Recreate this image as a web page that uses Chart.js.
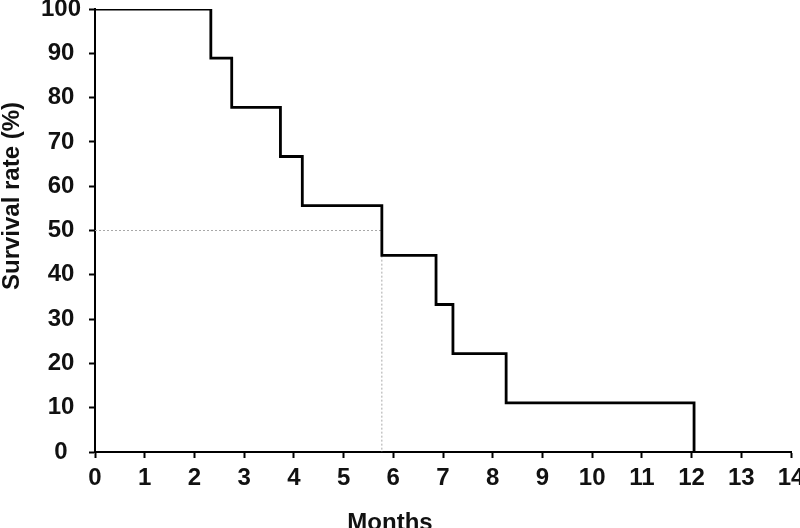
<!DOCTYPE html>
<html>
<head>
<meta charset="utf-8">
<script src="https://cdn.jsdelivr.net/npm/chart.js@4/dist/chart.umd.min.js"></script>
<style>
  html, body { margin: 0; padding: 0; background: #fff; }
  #wrap { width: 800px; height: 528px; }
</style>
</head>
<body>
<div id="wrap"><canvas id="c" width="800" height="528"></canvas></div>
<script>
// ---- Data ----
const eventMonths = [0, 2.33, 2.75, 3.73, 4.17, 5.77, 6.86, 7.20, 8.27, 12.05];
const survivalPct = [100, 88.9, 77.8, 66.7, 55.6, 44.4, 33.3, 22.2, 11.1, 0];
const medianMonths = 5.77;
const medianPct = 50;
const xTickValues = [0,1,2,3,4,5,6,7,8,9,10,11,12,13,14];
const yTickValues = [0,10,20,30,40,50,60,70,80,90,100];
const xTitle = 'Months';
const yTitle = 'Survival rate (%)';

const kmPoints = eventMonths.map((m, i) => ({ x: m, y: survivalPct[i] }));
const medianPoints = [
  { x: 0, y: medianPct },
  { x: medianMonths, y: medianPct },
  { x: medianMonths, y: 0 }
];

const FONT_FAMILY = '"Liberation Sans", Arial, Helvetica, sans-serif';

const titlesPlugin = {
  id: 'axisTitles',
  afterDraw(chart) {
    const ctx = chart.ctx;
    ctx.save();
    ctx.fillStyle = '#111';
    ctx.font = 'bold 24px ' + FONT_FAMILY;
    ctx.textAlign = 'center';
    ctx.textBaseline = 'alphabetic';
    ctx.fillText(xTitle, 390, 530);
    ctx.translate(19, 196);
    ctx.rotate(-Math.PI / 2);
    ctx.fillText(yTitle, 0, 0);
    ctx.restore();
  }
};

new Chart(document.getElementById('c'), {
  type: 'line',
  data: {
    datasets: [
      {
        data: kmPoints,
        borderColor: '#000',
        borderWidth: 2.8,
        stepped: 'before',
        pointRadius: 0,
        fill: false,
        order: 1
      },
      {
        data: medianPoints,
        borderColor: '#a8a8a8',
        borderWidth: 1,
        borderDash: [2, 2],
        pointRadius: 0,
        fill: false,
        order: 2
      }
    ]
  },
  options: {
    responsive: false,
    animation: false,
    layout: { padding: { top: 9, right: 9, left: 0, bottom: 0 } },
    plugins: { legend: { display: false }, tooltip: { enabled: false } },
    scales: {
      x: {
        type: 'linear',
        min: 0, max: 14,
        afterBuildTicks(scale) { scale.ticks = xTickValues.map(v => ({ value: v })); },
        afterFit(scale) { scale.height = 76; scale.paddingLeft = 0; scale.paddingRight = 0; },
        grid: { drawOnChartArea: false, drawTicks: true, tickLength: 6, color: '#000', tickWidth: 2 },
        border: { display: true, color: '#000', width: 2 },
        ticks: { color: '#111', padding: 6, font: { family: FONT_FAMILY, size: 24, weight: 'bold' }, maxRotation: 0, autoSkip: false }
      },
      y: {
        type: 'linear',
        min: 0, max: 100,
        afterBuildTicks(scale) { scale.ticks = yTickValues.map(v => ({ value: v })); },
        afterFit(scale) { scale.width = 95; scale.paddingTop = 0; scale.paddingBottom = 0; },
        grid: { drawOnChartArea: false, drawTicks: true, tickLength: 6, color: '#000', tickWidth: 2 },
        border: { display: true, color: '#000', width: 2 },
        ticks: { color: '#111', padding: 8, crossAlign: 'center', font: { family: FONT_FAMILY, size: 24, weight: 'bold' }, autoSkip: false }
      }
    }
  },
  plugins: [titlesPlugin]
});
</script>
</body>
</html>
